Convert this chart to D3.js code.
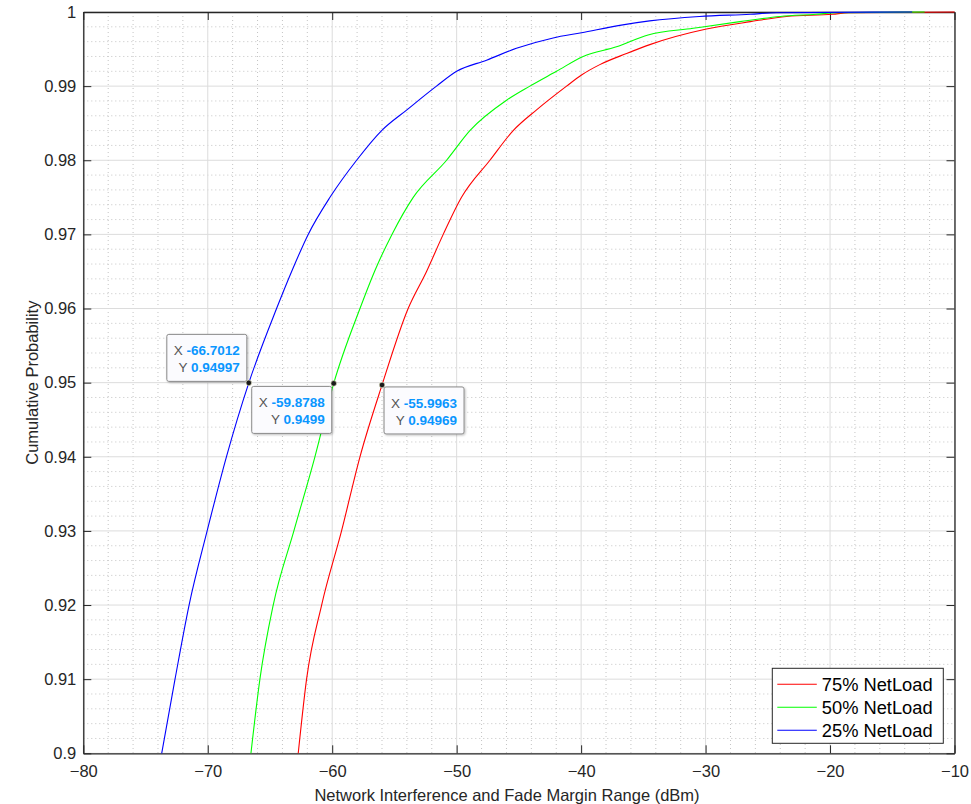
<!DOCTYPE html>
<html>
<head>
<meta charset="utf-8">
<script src="https://cdn.jsdelivr.net/npm/d3@7"></script>
<style>
  html, body { margin: 0; padding: 0; background: #fff; }
  svg { display: block; font-family: "Liberation Sans", Arial, sans-serif; }
</style>
</head>
<body>
<svg id="chart" width="971" height="804"></svg>
<script>
// ---------------- data ----------------
const seriesNames = ["75% NetLoad", "50% NetLoad", "25% NetLoad"];

const load75X = [-62.73, -62.06, -60.85, -59.25, -57.77, -55.9963, -53.90, -52.42, -51.08, -49.61, -47.33, -45.46, -43.58, -41.17, -39.97, -38.50, -36.35, -34.48, -29.93, -26.40, -23.50, -19.80, -18.50, -10.0];
const load75Y = [0.900, 0.910, 0.920, 0.930, 0.940, 0.94969, 0.960, 0.965, 0.970, 0.975, 0.980, 0.984, 0.9868, 0.990, 0.9915, 0.9929, 0.9944, 0.9956, 0.9977, 0.9987, 0.9994, 0.9997, 0.9999, 1.0];

const load50X = [-66.53, -65.81, -64.74, -63.08, -61.39, -59.8788, -57.77, -56.60, -55.20, -53.49, -50.81, -48.94, -45.99, -44.12, -41.98, -39.84, -37.16, -34.62, -31.00, -27.25, -24.00, -21.10, -19.50, -12.4];
const load50Y = [0.900, 0.910, 0.920, 0.930, 0.940, 0.9499, 0.960, 0.965, 0.970, 0.975, 0.980, 0.984, 0.9881, 0.990, 0.9920, 0.9940, 0.9953, 0.9969, 0.9978, 0.9987, 0.9994, 0.9997, 0.9999, 1.0];

const load25X = [-73.70, -72.63, -71.50, -70.05, -68.50, -66.7012, -64.47, -63.26, -61.93, -60.18, -58.04, -56.03, -54.00, -51.62, -50.00, -47.60, -45.20, -42.25, -39.97, -36.90, -34.50, -30.50, -26.40, -24.30, -13.4];
const load25Y = [0.900, 0.910, 0.920, 0.930, 0.940, 0.94997, 0.960, 0.965, 0.970, 0.975, 0.980, 0.984, 0.9868, 0.990, 0.9920, 0.9935, 0.9951, 0.9965, 0.9972, 0.9982, 0.9988, 0.9994, 0.9997, 0.9999, 1.0];

const xTicks = [-80, -70, -60, -50, -40, -30, -20, -10];
const yTicks = [0.9, 0.91, 0.92, 0.93, 0.94, 0.95, 0.96, 0.97, 0.98, 0.99, 1];
const yTickLabels = ["0.9", "0.91", "0.92", "0.93", "0.94", "0.95", "0.96", "0.97", "0.98", "0.99", "1"];

const tipX = [-66.7012, -59.8788, -55.9963];
const tipY = [0.94997, 0.9499, 0.94969];
const tipXText = ["-66.7012", "-59.8788", "-55.9963"];
const tipYText = ["0.94997", "0.9499", "0.94969"];

const xLabel = "Network Interference and Fade Margin Range (dBm)";
const yLabel = "Cumulative Probability";

// ---------------- styles / layout ----------------
const colors = ["#ff0000", "#00ff00", "#0000ff"];
const tipPlacement = ["upLeft", "downLeft", "downRight"];

const L = 83.3, R = 954.5, T = 12, B = 753.3;

const svg = d3.select("#chart");
const x = d3.scaleLinear().domain([-80, -10]).range([L, R]);
const y = d3.scaleLinear().domain([0.9, 1]).range([B, T]);

// minor grid
const xMinor = d3.range(-80, -10 + 0.001, 2).filter(v => !xTicks.includes(Math.round(v)));
const yMinor = d3.range(0, 51).map(i => 0.9 + i * 0.002).filter((v, i) => i % 5 !== 0);

const grid = svg.append("g");
grid.selectAll("line.xm").data(xMinor).join("line")
  .attr("x1", d => x(d)).attr("x2", d => x(d)).attr("y1", T).attr("y2", B)
  .attr("stroke", "#c4c4c4").attr("stroke-width", 1).attr("stroke-dasharray", "1,3");
grid.selectAll("line.ym").data(yMinor).join("line")
  .attr("y1", d => y(d)).attr("y2", d => y(d)).attr("x1", L).attr("x2", R)
  .attr("stroke", "#c4c4c4").attr("stroke-width", 1).attr("stroke-dasharray", "1,3");
grid.selectAll("line.xM").data(xTicks).join("line")
  .attr("x1", d => x(d)).attr("x2", d => x(d)).attr("y1", T).attr("y2", B)
  .attr("stroke", "#dcdcdc").attr("stroke-width", 1);
grid.selectAll("line.yM").data(yTicks).join("line")
  .attr("y1", d => y(d)).attr("y2", d => y(d)).attr("x1", L).attr("x2", R)
  .attr("stroke", "#dcdcdc").attr("stroke-width", 1);

// axes
const axisColor = "#262626";
const fmtY = v => yTickLabels[yTicks.indexOf(v)];
const gx = svg.append("g").attr("transform", `translate(0,${B})`)
  .call(d3.axisBottom(x).tickValues(xTicks).tickSizeInner(-8).tickSizeOuter(0).tickPadding(12));
const gxT = svg.append("g").attr("transform", `translate(0,${T})`)
  .call(d3.axisTop(x).tickValues(xTicks).tickSizeInner(-8).tickSizeOuter(0).tickFormat(""));
const gy = svg.append("g").attr("transform", `translate(${L},0)`)
  .call(d3.axisLeft(y).tickValues(yTicks).tickFormat(fmtY).tickSizeInner(-8).tickSizeOuter(0).tickPadding(7));
const gyR = svg.append("g").attr("transform", `translate(${R},0)`)
  .call(d3.axisRight(y).tickValues(yTicks).tickSizeInner(-8).tickSizeOuter(0).tickFormat(""));
[gx, gxT, gy, gyR].forEach(g => {
  g.attr("font-size", null).attr("font-family", null);
  g.select(".domain").attr("stroke", axisColor).attr("stroke-width", 1.3);
  g.selectAll(".tick line").attr("stroke", axisColor).attr("stroke-width", 1);
  g.selectAll(".tick text").attr("fill", axisColor).style("font-size", "16.5px");
});

// series lines
const series = [
  { name: seriesNames[0], xs: load75X, ys: load75Y, color: colors[0] },
  { name: seriesNames[1], xs: load50X, ys: load50Y, color: colors[1] },
  { name: seriesNames[2], xs: load25X, ys: load25Y, color: colors[2] }
];
const line = d3.line().x(d => x(d[0])).y(d => y(d[1])).curve(d3.curveMonotoneX);
svg.append("g").selectAll("path").data(series).join("path")
  .attr("d", s => line(s.xs.map((v, i) => [v, s.ys[i]])))
  .attr("fill", "none").attr("stroke", s => s.color).attr("stroke-width", 1.1);

// axis labels
svg.append("text").attr("x", 507).attr("y", 801)
  .attr("text-anchor", "middle").attr("fill", axisColor).style("font-size", "16.5px").text(xLabel);
svg.append("text").attr("transform", `translate(38,${(T + B) / 2}) rotate(-90)`)
  .attr("text-anchor", "middle").attr("fill", axisColor).style("font-size", "16.5px").text(yLabel);

// legend
const lg = svg.append("g");
const lgX = 772.3, lgY = 668.3, lgW = 171, lgH = 75;
lg.append("rect").attr("x", lgX).attr("y", lgY).attr("width", lgW).attr("height", lgH)
  .attr("fill", "#fff").attr("stroke", axisColor).attr("stroke-width", 1);
const rows = lg.selectAll("g.row").data(series).join("g")
  .attr("transform", (d, i) => `translate(${lgX},${lgY + 16 + i * 23})`);
rows.append("line").attr("x1", 5).attr("x2", 44.5).attr("y1", 0).attr("y2", 0)
  .attr("stroke", d => d.color).attr("stroke-width", 1.1);
rows.append("text").attr("x", 49.5).attr("y", 6.5).attr("fill", "#000")
  .style("font-size", "18.3px").text(d => d.name);

// datatips
const defs = svg.append("defs");
const f = defs.append("filter").attr("id", "sh").attr("x", "-20%").attr("y", "-20%").attr("width", "140%").attr("height", "140%");
f.append("feDropShadow").attr("dx", 1).attr("dy", 1).attr("stdDeviation", 1.2).attr("flood-color", "#000").attr("flood-opacity", 0.25);

const tips = tipX.map((v, i) => ({ x: v, y: tipY[i], xt: tipXText[i], yt: tipYText[i], place: tipPlacement[i] }));
const bw = 80, bh = 47;
const tg = svg.append("g").selectAll("g").data(tips).join("g").attr("transform", d => {
  const px = x(d.x), py = y(d.y);
  let bx, by;
  if (d.place === "upLeft") { bx = px - 2 - bw; by = py - 1.5 - bh; }
  else if (d.place === "downLeft") { bx = px - 2 - bw; by = py + 3; }
  else { bx = px + 2; by = py + 2; }
  return `translate(${bx},${by})`;
});
tg.append("rect").attr("width", bw).attr("height", bh).attr("rx", 2)
  .attr("fill", "#fbfbfe").attr("stroke", "#8a8a8a").attr("stroke-width", 1).attr("filter", "url(#sh)");
const r1 = tg.append("text").attr("x", bw - 7).attr("y", 21).attr("text-anchor", "end").style("font-size", "13.5px");
r1.append("tspan").attr("fill", "#555").text("X ");
r1.append("tspan").attr("fill", "#0a96ff").attr("font-weight", "bold").text(d => d.xt);
const r2 = tg.append("text").attr("x", bw - 7).attr("y", 38).attr("text-anchor", "end").style("font-size", "13.5px");
r2.append("tspan").attr("fill", "#555").text("Y ");
r2.append("tspan").attr("fill", "#0a96ff").attr("font-weight", "bold").text(d => d.yt);

svg.append("g").selectAll("circle").data(tips).join("circle")
  .attr("cx", d => x(d.x)).attr("cy", d => y(d.y)).attr("r", 2.8)
  .attr("fill", "#1a1a1a").attr("stroke", "#f0f0d0").attr("stroke-width", 0.6);
</script>
</body>
</html>
